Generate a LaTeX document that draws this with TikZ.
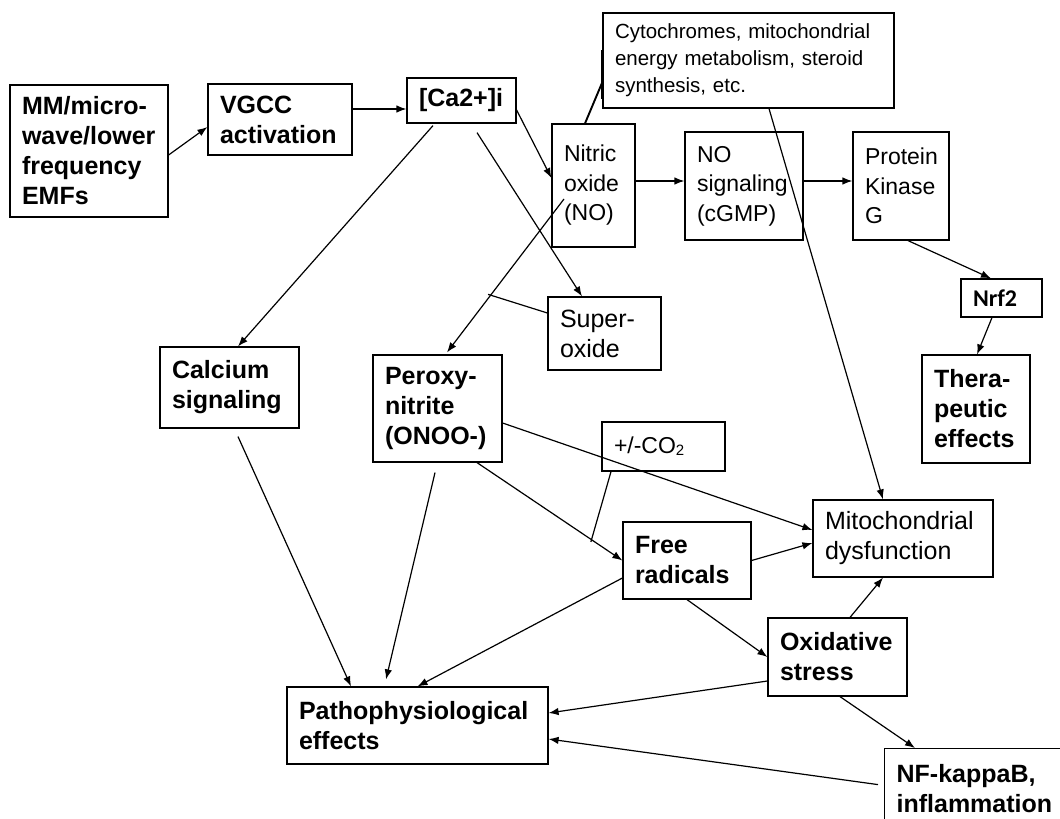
\documentclass[tikz,border=0pt]{standalone}
\usepackage{fontspec}
\setmainfont{Liberation Sans}
\newfontfamily\nrffont{Carlito}
\usetikzlibrary{arrows.meta, calc}

\begin{document}
\begin{tikzpicture}[
      x=1pt, y=-1pt,
      >=Latex,
      box/.style={
        draw=black,
        line width=1.2pt,
        inner xsep=12pt,
        inner ysep=0pt,
        align=left,
        font=\fontsize{25}{30}\selectfont
      },
      boldbox/.style={box, font=\fontsize{25}{30}\selectfont\bfseries},
      smallbox/.style={box, font=\fontsize{23}{29.5}\selectfont},
      arr/.style={-{Latex[length=10pt,width=7.5pt]}, draw=black, line width=1.2pt},
      link/.style={draw=black, line width=1.2pt}
    ]

    \useasboundingbox (0,0) rectangle (1060,819);

    % Upstream chain
    \node[boldbox, text width=134pt, minimum height=132pt] (mm) at (89,151) {MM/micro-\\wave/lower\\frequency\\EMFs};
    \node[boldbox, text width=120pt, minimum height=71pt] (vgcc) at (280,119.5) {VGCC\\activation};
    \node[boldbox, text width=85pt, minimum height=45pt] (ca) at (461.5,100.5) {[Ca2+]i};
    \node[box, font=\fontsize{20.5}{27}\selectfont, text width=267pt, minimum height=95pt] (cyto) at (748.5,60.5) {Cytochromes, mitochondrial\\energy metabolism, steroid\\synthesis, etc.};
    \node[smallbox, text width=59pt, minimum height=123pt] (nitric) at (593.5,185.5) {Nitric\\oxide\\(NO)\\[6pt]};
    \node[smallbox, text width=94pt, minimum height=108pt] (nosig) at (744,186) {NO\\signaling\\(cGMP)};
    \node[smallbox, text width=72pt, minimum height=108pt] (pkg) at (901,186) {Protein\\Kinase\\G};
    \node[box, font=\fontsize{24}{28}\selectfont\nrffont\bfseries, text width=57pt, minimum height=38pt] (nrf) at (1001.5,298) {Nrf2};
    \node[boldbox, text width=84pt, minimum height=108pt] (thera) at (976,409) {Thera-\\peutic\\effects};

    % Middle and downstream nodes
    \node[box, text width=89pt, minimum height=73pt] (superox) at (604.5,333.5) {Super-\\oxide};
    \node[boldbox, text width=115pt, minimum height=81pt] (calc) at (229.5,387.5) {Calcium\\signaling};
    \node[boldbox, text width=105pt, minimum height=107pt] (peroxy) at (437.5,408.5) {Peroxy-\\nitrite\\(ONOO-)};
    \node[smallbox, text width=99pt, minimum height=49pt] (co2) at (663.5,446.5) {+/-CO\raisebox{-2pt}{\fontsize{15}{15}\selectfont 2}};
    \node[box, text width=156pt, minimum height=77pt] (mito) at (903,538.5) {Mitochondrial\\dysfunction};
    \node[boldbox, text width=104pt, minimum height=77pt] (free) at (687,560.5) {Free\\radicals};
    \node[boldbox, text width=115pt, minimum height=78pt] (oxid) at (837.5,657) {Oxidative\\stress};
    \node[boldbox, text width=156pt, minimum height=80pt, anchor=north west] (nfkb) at (884,748) {NF-kappaB,\\inflammation};
    \node[boldbox, text width=237pt, minimum height=77pt] (patho) at (417.5,725.5) {Pathophysiological\\effects};

    % Signaling cascade
    \draw[arr] ([yshift=-4pt]mm.east) -- ([yshift=-7.5pt]vgcc.west);
    \draw[arr] ([yshift=10.5pt]vgcc.east) -- ([yshift=-8.5pt]ca.west);
    \draw[arr] ([yshift=-9.5pt]ca.east) -- ([yshift=7.5pt]nitric.west);
    \draw[arr] ([xshift=15.5pt,yshift=-9pt]ca.south) -- ([xshift=-22.5pt]superox.north);
    \draw[arr] ([xshift=-28.5pt,yshift=-2pt]ca.south) -- ([xshift=8.5pt]calc.north);
    \draw[arr] ([yshift=4.5pt]nitric.east) -- ([yshift=5pt]nosig.west);
    \draw[arr] ([yshift=5pt]nosig.east) -- ([yshift=5pt]pkg.west);
    \draw[arr] ([xshift=7pt]pkg.south) -- ([xshift=-10.5pt]nrf.north);
    \draw[arr] ([xshift=-9.5pt]nrf.south) -- ([xshift=1pt]thera.north);

    % Nitric oxide targets
    \draw[link, line width=1.9pt] ([xshift=-8.5pt]nitric.north) -- ([yshift=-21.5pt]cyto.west);
    \draw[link, line width=1.9pt] ([yshift=10.5pt]cyto.west) -- ([yshift=-38.5pt]cyto.west);
    \draw[arr] ([xshift=20.5pt]cyto.south) -- ([xshift=-20pt]mito.north);
    \draw[arr] ([xshift=-29.5pt,yshift=-13.5pt]nitric.center) -- coordinate[pos=0.615] (soJoin) ([xshift=9.5pt,yshift=2pt]peroxy.north);
    \draw[link] ([yshift=20.5pt]superox.west) -- ([xshift=-4pt,yshift=-1pt]soJoin);

    % Peroxynitrite effects
    \draw[arr] ([yshift=-14.5pt]peroxy.east) -- ([yshift=8.5pt]mito.west);
    \draw[arr] ([xshift=39.5pt]peroxy.south) -- coordinate[pos=0.79] (coJoin) (free.west);
    \draw[link] ([xshift=-52.5pt]co2.south) -- ([xshift=-1pt,yshift=-2pt]coJoin);
    \draw[arr] ([xshift=-2.5pt,yshift=-10pt]peroxy.south) -- ([xshift=-31.5pt,yshift=7pt]patho.north);
    \draw[arr] ([xshift=8.5pt,yshift=-8pt]calc.south) -- ([xshift=-66.5pt]patho.north);

    % Free radicals and oxidative stress
    \draw[arr] ([yshift=-17.5pt]free.west) -- (patho.north);
    \draw[arr] (free.east) -- ([yshift=-4.5pt]mito.west);
    \draw[arr] (free.south) -- (oxid.west);
    \draw[arr] ([xshift=12.5pt]oxid.north) -- ([xshift=-20pt]mito.south);
    \draw[arr] ([yshift=-24pt]oxid.west) -- ([yshift=12.5pt]patho.east);
    \draw[arr] ([xshift=2.5pt]oxid.south) -- ([xshift=31pt]nfkb.north west);
    \draw[arr] ([xshift=-6pt,yshift=4pt]nfkb.west) -- ([yshift=-13.5pt]patho.east);

  \end{tikzpicture}
\end{document}
